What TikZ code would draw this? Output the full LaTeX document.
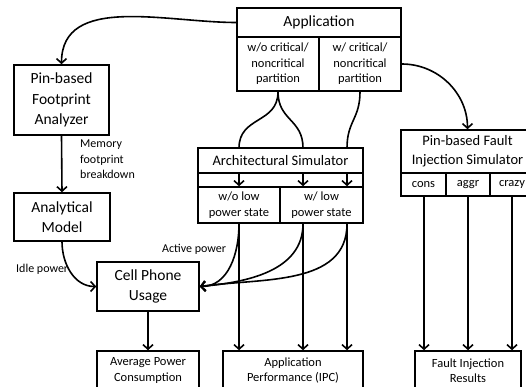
\documentclass[tikz,border=0pt]{standalone}
\usepackage{fontspec}
\setmainfont{Carlito}
\usetikzlibrary{arrows.meta}
\begin{document}
\begin{tikzpicture}[x=1pt,y=-1pt,
  box/.style={draw, line width=1.6pt, inner sep=0pt, align=center, font=\fontsize{15.5}{20.5}\selectfont},
  sbox/.style={box, font=\fontsize{12.5}{15.5}\selectfont},
  arr/.style={line width=1.6pt, -{Straight Barb[length=4.5pt,width=10pt]}},
  lbl/.style={font=\fontsize{12}{15.5}\selectfont, inner sep=0pt, align=left}]
\useasboundingbox (0,0) rectangle (526,387);
\clip (0,0) rectangle (526,387);
% Application
\node[box, minimum width=164, minimum height=29] (app) at (319,22.5) {Application};
\node[sbox, minimum width=82, minimum height=54] (appA) at (278,64) {w/o critical/\\noncritical\\partition};
\node[sbox, minimum width=82, minimum height=54] (appB) at (360,64) {w/ critical/\\noncritical\\partition};
% left column
\node[box, minimum width=95, minimum height=70] (fpa) at (61.5,100) {Pin-based\\Footprint\\Analyzer};
\node[box, minimum width=96, minimum height=48] (am) at (62,217) {Analytical\\Model};
\node[box, minimum width=102, minimum height=49] (cpu) at (148,286.5) {Cell Phone\\Usage};
\node[sbox, minimum width=102, minimum height=39] (apc) at (148,370.5) {Average Power\\Consumption};
% architectural simulator
\node[box, font=\fontsize{14.5}{18}\selectfont, minimum width=165, minimum height=25] (as) at (280.5,160.5) {Architectural Simulator};
\node[box, minimum width=165, minimum height=14] (strip) at (280.5,180) {};
\node[sbox, minimum width=82, minimum height=36] (asA) at (239,205) {w/o low\\power state};
\node[sbox, minimum width=83, minimum height=36] (asB) at (321.5,205) {w/ low\\power state};
\node[sbox, minimum width=140, minimum height=39] (perf) at (293,370.5) {Application\\Performance (IPC)};
% fault injection
\node[box, font=\fontsize{14.5}{19}\selectfont, minimum width=133, minimum height=43] (fis) at (467.5,151.5) {Pin-based Fault\\Injection Simulator};
\node[sbox, minimum width=45, minimum height=23] (cons) at (423.5,184.5) {cons};
\node[sbox, minimum width=44, minimum height=23] (aggr) at (468,184.5) {aggr};
\node[sbox, minimum width=44, minimum height=23] (crazy) at (512,184.5) {crazy};
\node[sbox, minimum width=106, minimum height=39] (fir) at (468,370.5) {Fault Injection\\Results};
% labels
\node[lbl, anchor=north west] (mfb) at (80,140) {Memory\\footprint\\breakdown};
\node[lbl, anchor=west] (idle) at (16,269) {Idle power};
\node[lbl] (act) at (194,249) {Active power};
% coordinates
\coordinate (asA1) at (239,148);
\coordinate (asB1) at (303,148);
\coordinate (asB2) at (347,148);
\coordinate (f1) at (424,0);
% arrows
\draw[arr] (app.west) to[out=180,in=90] (fpa.north);
\draw[arr] (appB.east) to[out=0,in=90] (fis.north);
\draw[arr] (fpa.south) -- (am.north);
\draw[arr] (am.south) to[out=-90,in=180] (cpu.west);
\draw[arr] (cpu.south) -- (apc.north);
\draw[line width=1.6pt] (appA.south) to[out=-90,in=90,looseness=1.2] (asA1);
\draw[line width=1.6pt] (appA.south) to[out=-90,in=90,looseness=1.2] (asB1);
\draw[line width=1.6pt] (appB.south) to[out=-90,in=90,looseness=1.2] (asB2);
\draw[arr] (strip.north -| asA1) -- (asA.north -| asA1);
\draw[arr] (strip.north -| asB1) -- (asB.north -| asB1);
\draw[arr] (strip.north -| asB2) -- (asB.north -| asB2);
\draw[arr] (asA.south -| asA1) to[out=-90,in=0] (cpu.east);
\draw[arr] (asB.south -| asB1) to[out=-90,in=5] (cpu.east);
\draw[arr] (asB.south -| asB2) to[out=-90,in=8] (cpu.east);
\draw[arr] (asA.south -| asA1) -- (perf.north -| asA1);
\draw[arr] (asB.south -| asB1) -- (perf.north -| asB1);
\draw[arr] (asB.south -| asB2) -- (perf.north -| asB2);
\draw[arr] (cons.south -| f1) -- (fir.north -| f1);
\draw[arr] (aggr.south) -- (fir.north -| aggr.south);
\draw[arr] (crazy.south) -- (fir.north -| crazy.south);
\end{tikzpicture}
\end{document}
